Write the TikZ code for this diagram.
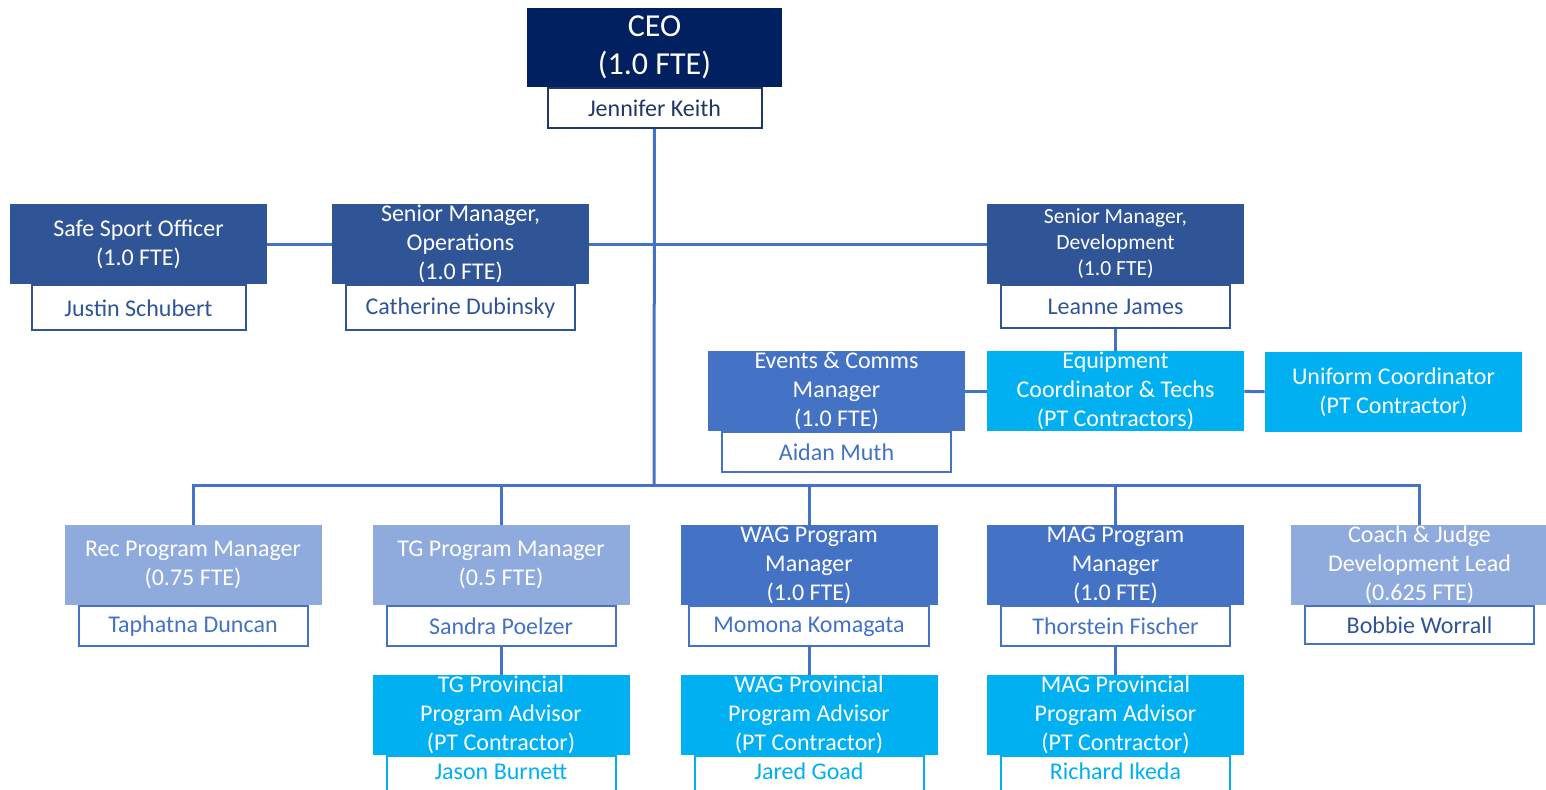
\documentclass[tikz,border=0pt]{standalone}
\usepackage{fontspec}
\setmainfont{Carlito}
\usepackage{tikz}
\usetikzlibrary{positioning}
\definecolor{ceonavy}{RGB}{0,32,96}
\definecolor{navytext}{RGB}{31,56,100}
\definecolor{darkblue}{RGB}{47,85,151}
\definecolor{midblue}{RGB}{68,114,196}
\definecolor{paleblue}{RGB}{143,170,220}
\definecolor{brightcyan}{RGB}{0,176,240}

\begin{document}
\begin{tikzpicture}[
    x=0.5pt, y=-0.5pt,
    role/.style={minimum width=128.5pt, minimum height=40pt, inner sep=0pt, align=center, text=white, font=\fontsize{12}{14.5}\selectfont},
    chief/.style={role, fill=ceonavy, minimum width=127.5pt, minimum height=39.5pt, font=\fontsize{16}{19}\selectfont},
    senior/.style={role, fill=darkblue},
    lead/.style={role, fill=midblue},
    program/.style={role, fill=paleblue},
    contractor/.style={role, fill=brightcyan},
    person/.style={draw=#1, text=#1, line width=1pt, fill=white, minimum width=114.5pt, minimum height=21pt, inner sep=0pt, font=\fontsize{12}{14.5}\selectfont},
    link/.style={draw=midblue, line width=1.5pt}
]
\useasboundingbox (0,0) rectangle (1546,789);
\clip (0,0) rectangle (1546,789);

\node[chief] (ceo) at (654.5,47) {CEO\\(1.0 FTE)};
\node[person=navytext, minimum width=107pt, minimum height=20pt, below=0pt of ceo] (ceoname) {Jennifer Keith};

\node[senior] (safe) at (138.5,244) {Safe Sport Officer\\(1.0 FTE)};
\node[senior] (ops) at (460.5,244) {Senior Manager,\\Operations\\(1.0 FTE)};
\node[senior, font=\fontsize{10.8}{13}\selectfont] (dev) at (1115.5,244) {Senior Manager,\\Development\\(1.0 FTE)};
\node[person=darkblue, minimum width=107pt, minimum height=22.5pt, below=0pt of safe] (safename) {Justin Schubert};
\node[person=darkblue, minimum height=22.5pt, below=0pt of ops] (opsname) {Catherine Dubinsky};
\node[person=darkblue, minimum height=21.5pt, below=0pt of dev] (devname) {Leanne James};

\node[lead] (events) at (836.5,391) {Events \& Comms\\Manager\\(1.0 FTE)};
\node[contractor] (equip) at (1115.5,391) {Equipment\\Coordinator \& Techs\\(PT Contractors)};
\node[contractor] (uniform) at (1393.5,392) {Uniform Coordinator\\(PT Contractor)};
\node[person=midblue, minimum height=20pt, below=0pt of events] (eventsname) {Aidan Muth};

\node[program] (rec) at (193,565) {Rec Program Manager\\(0.75 FTE)};
\node[program] (tg) at (501,565) {TG Program Manager\\(0.5 FTE)};
\node[lead] (wag) at (809,565) {WAG Program\\Manager\\(1.0 FTE)};
\node[lead] (mag) at (1115.5,565) {MAG Program\\Manager\\(1.0 FTE)};
\node[program] (coach) at (1419.5,565) {Coach \& Judge\\Development Lead\\(0.625 FTE)};
\node[person=midblue, minimum height=20pt, below=0pt of rec] (recname) {Taphatna Duncan};
\node[person=midblue, minimum height=20pt, below=0pt of tg] (tgname) {Sandra Poelzer};
\node[person=midblue, minimum width=120pt, minimum height=20pt, below=0pt of wag] (wagname) {Momona Komagata};
\node[person=midblue, minimum height=20pt, below=0pt of mag] (magname) {Thorstein Fischer};
\node[person=midblue, text=darkblue, minimum height=19pt, below=0pt of coach] (coachname) {Bobbie Worrall};

\node[contractor] (tgprov) at (501,715) {TG Provincial\\Program Advisor\\(PT Contractor)};
\node[contractor] (wagprov) at (809,715) {WAG Provincial\\Program Advisor\\(PT Contractor)};
\node[contractor] (magprov) at (1115.5,715) {MAG Provincial\\Program Advisor\\(PT Contractor)};
\node[person=brightcyan, minimum height=22pt, text depth=7pt, below=0pt of tgprov] (tgprovname) {Jason Burnett};
\node[person=brightcyan, minimum height=22pt, text depth=7pt, below=0pt of wagprov] (wagprovname) {Jared Goad};
\node[person=brightcyan, minimum height=22pt, text depth=7pt, below=0pt of magprov] (magprovname) {Richard Ikeda};

\coordinate (bus) at (654,485);

\draw[link] (ceoname) -- (bus);
\draw[link] (safe) -- (ops);
\draw[link] (ops) -- (dev);
\draw[link] (devname) -- (equip);
\draw[link] (events) -- (equip);
\draw[link] (equip) -- (uniform);

\draw[link] (bus) -| (rec.north);
\draw[link] (bus) -| (tg.north);
\draw[link] (bus) -| (wag.north);
\draw[link] (bus) -| (mag.north);
\draw[link] (bus) -| (coach.north);

\draw[link] (tgname) -- (tgprov);
\draw[link] (wagname) -- (wagprov);
\draw[link] (magname) -- (magprov);

\end{tikzpicture}
\end{document}
